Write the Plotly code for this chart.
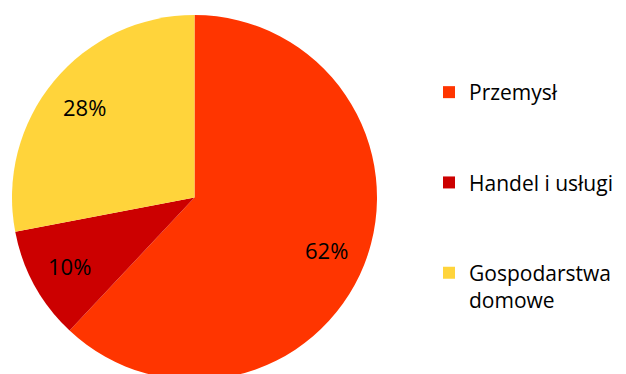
import math
import plotly.graph_objects as go

labels = ["Przemysł", "Handel i usługi", "Gospodarstwa domowe"]
legend_labels = ["Przemysł", "Handel i usługi", "Gospodarstwa<br>domowe"]
values = [62, 10, 28]
colors = ["#FF3500", "#CC0000", "#FFD43B"]

W, H = 626, 380
PIE_X = [12 / W, 377 / W]
PIE_Y = [0, 365 / H]
LABEL_R = 0.78  # fraction of radius where percentage labels sit

fig = go.Figure()
fig.add_trace(go.Pie(
    labels=labels, values=values, sort=False, direction="clockwise", rotation=0,
    marker=dict(colors=colors, line=dict(width=0)),
    textinfo="none",
    domain=dict(x=PIE_X, y=PIE_Y),
    showlegend=False, hoverinfo="skip",
))

# percentage labels placed along each slice's bisector
total = sum(values)
cx = (PIE_X[0] + PIE_X[1]) / 2
cy = (PIE_Y[0] + PIE_Y[1]) / 2
rpx = min((PIE_X[1] - PIE_X[0]) * W, (PIE_Y[1] - PIE_Y[0]) * H) / 2
cum = 0
for v in values:
    mid = (cum + v / 2) / total * 2 * math.pi
    cum += v
    fig.add_annotation(
        x=cx + LABEL_R * rpx * math.sin(mid) / W,
        y=cy + LABEL_R * rpx * math.cos(mid) / H,
        xref="paper", yref="paper", showarrow=False,
        text=f"{round(v / total * 100)}%",
        font=dict(family="Open Sans", size=22, color="black"),
        xanchor="center", yanchor="middle",
    )

for i, (name, col) in enumerate(zip(legend_labels, colors)):
    fig.add_trace(go.Scatter(
        x=[None], y=[None], mode="markers", name=name, legendgroup=str(i),
        marker=dict(symbol="square", size=13, color=col), showlegend=True,
    ))

fig.update_layout(
    width=W, height=H, margin=dict(l=0, r=0, t=0, b=0, autoexpand=False),
    paper_bgcolor="white", plot_bgcolor="white",
    xaxis=dict(visible=False), yaxis=dict(visible=False),
    legend=dict(
        xref="paper", yref="paper", x=429 / W, y=1 - 72 / H,
        xanchor="left", yanchor="top", valign="top",
        font=dict(family="Open Sans", size=21, color="black"),
        tracegroupgap=60, itemsizing="constant", bgcolor="rgba(0,0,0,0)",
        maxheight=1.0,
    ),
)
fig.write_html("out.html", post_script="document.body.style.overflow='hidden';document.documentElement.style.overflow='hidden';document.body.style.margin='0';")
